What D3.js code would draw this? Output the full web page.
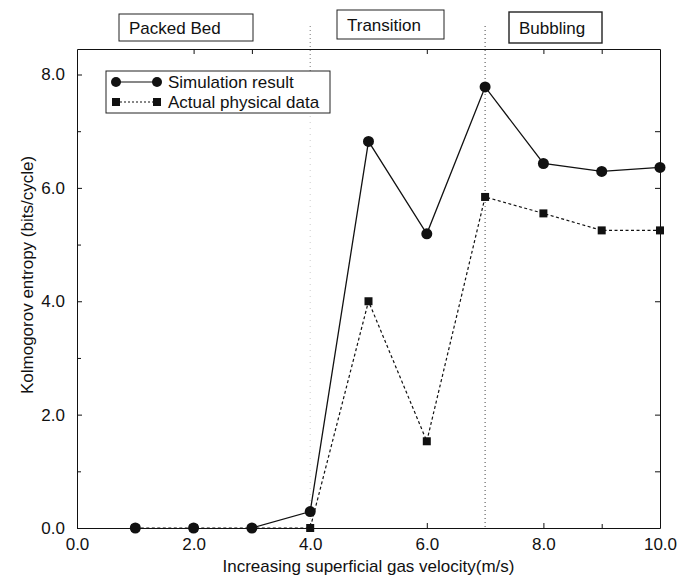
<!DOCTYPE html>
<html>
<head>
<meta charset="utf-8">
<script src="https://cdn.jsdelivr.net/npm/d3@7"></script>
<style>
  body { margin: 0; background: #fff; }
  svg { display: block; font-family: "Liberation Sans", Arial, Helvetica, sans-serif; }
</style>
</head>
<body>
<svg id="chart" width="693" height="576"></svg>
<script>
// ── Data ────────────────────────────────────────────────────
const velocity = [1, 2, 3, 4, 5, 6, 7, 8, 9, 10];
const simulation = [0, 0, 0, 0.29, 6.82, 5.19, 7.78, 6.43, 6.29, 6.36];
const actual = [0, 0, 0, 0, 4.0, 1.53, 5.84, 5.55, 5.25, 5.25];
const xTickValues = [0, 2, 4, 6, 8, 10];
const yTickValues = [0, 2, 4, 6, 8];
const regionLabels = ['Packed Bed', 'Transition', 'Bubbling'];
const regionBounds = [4, 7];   // velocities where the regime changes
const seriesNames = ['Simulation result', 'Actual physical data'];

// ── Layout ──────────────────────────────────────────────────
const W = 693, H = 576;
const margin = { top: 49, right: 33, bottom: 48, left: 77 };
const FONT = 17;

const svg = d3.select('#chart');
const x = d3.scaleLinear().domain([0, 10]).range([margin.left, W - margin.right]);
const y = d3.scaleLinear().domain([0, 8.45]).range([H - margin.bottom, margin.top]);

const simPts = velocity.map((v, i) => ({ x: v, y: simulation[i] }));
const actPts = velocity.map((v, i) => ({ x: v, y: actual[i] }));

// ── Regime separators ───────────────────────────────────────
// the first one is faint in the scan below the legend
svg.append('line')
  .attr('x1', x(regionBounds[0])).attr('x2', x(regionBounds[0]))
  .attr('y1', 26).attr('y2', 110)
  .attr('stroke', '#777').attr('stroke-width', 1)
  .attr('stroke-dasharray', '1,3');

svg.append('line')
  .attr('x1', x(regionBounds[0])).attr('x2', x(regionBounds[0]))
  .attr('y1', 110).attr('y2', y(0))
  .attr('stroke', '#ccc').attr('stroke-width', 1)
  .attr('stroke-dasharray', '1,5');

svg.append('line')
  .attr('x1', x(regionBounds[1])).attr('x2', x(regionBounds[1]))
  .attr('y1', 26).attr('y2', y(0))
  .attr('stroke', '#444').attr('stroke-width', 1)
  .attr('stroke-dasharray', '1,3');

// ── Axes (ticks point inward) ───────────────────────────────
const fmt = d3.format('.1f');

svg.append('g')
  .attr('transform', `translate(0,${y(0)})`)
  .call(d3.axisBottom(x).tickValues(xTickValues).tickFormat(fmt)
    .tickSizeInner(-5).tickSizeOuter(0).tickPadding(10));

svg.append('g')
  .attr('transform', `translate(${x(0)},0)`)
  .call(d3.axisLeft(y).tickValues(yTickValues).tickFormat(fmt)
    .tickSizeInner(-5).tickSizeOuter(0).tickPadding(12));

// minor ticks on the left, plain ticks on top and right
svg.append('g')
  .attr('transform', `translate(${x(0)},0)`)
  .call(d3.axisLeft(y).tickValues([1, 3, 5, 7]).tickFormat('')
    .tickSizeInner(-4).tickSizeOuter(0))
  .call(g => g.select('.domain').remove());

svg.append('g')
  .attr('transform', `translate(0,${y.range()[1]})`)
  .call(d3.axisTop(x).tickValues([2, 3, 6, 8, 9]).tickFormat('')
    .tickSizeInner(-5).tickSizeOuter(0));

svg.append('g')
  .attr('transform', `translate(${x(10)},0)`)
  .call(d3.axisRight(y).tickValues([1, 2, 4, 6, 7]).tickFormat('')
    .tickSizeInner(-5).tickSizeOuter(0));

svg.append('g')
  .attr('transform', `translate(0,${y(0)})`)
  .call(d3.axisBottom(x).tickValues([9]).tickFormat('')
    .tickSizeInner(-4).tickSizeOuter(0))
  .call(g => g.select('.domain').remove());

svg.selectAll('.domain').attr('stroke', '#111');
svg.selectAll('.tick line').attr('stroke', '#111');
svg.selectAll('.tick text')
  .attr('font-size', FONT)
  .attr('font-family', '"Liberation Sans", Arial, sans-serif')
  .attr('fill', '#111');

// ── Axis titles ─────────────────────────────────────────────
svg.append('text')
  .attr('x', (x(0) + x(10)) / 2).attr('y', 572)
  .attr('text-anchor', 'middle')
  .attr('font-size', FONT).attr('fill', '#111')
  .text('Increasing superficial gas velocity(m/s)');

svg.append('text')
  .attr('transform', 'translate(33,275) rotate(-90)')
  .attr('text-anchor', 'middle')
  .attr('font-size', FONT).attr('fill', '#111')
  .text('Kolmogorov entropy (bits/cycle)');

// ── Regime labels ───────────────────────────────────────────
const regionBoxes = [
  { x: 119, y: 14, w: 134, h: 27 },
  { x: 337, y: 10, w: 107, h: 29 },
  { x: 509, y: 12, w: 93, h: 31 }
];

regionLabels.forEach((name, i) => {
  const b = regionBoxes[i];
  svg.append('rect')
    .attr('x', b.x).attr('y', b.y).attr('width', b.w).attr('height', b.h)
    .attr('fill', 'none').attr('stroke', '#222')
    .attr('stroke-width', i === 2 ? 1.4 : 1);
  svg.append('text')
    .attr('x', b.x + 10).attr('y', b.y + b.h / 2)
    .attr('dy', '0.36em')
    .attr('font-size', FONT).attr('fill', '#111')
    .text(name);
});

// ── Series ──────────────────────────────────────────────────
const line = d3.line().x(d => x(d.x)).y(d => y(d.y));

svg.append('path')
  .datum(actPts)
  .attr('d', line)
  .attr('fill', 'none')
  .attr('stroke', '#111').attr('stroke-width', 1.2)
  .attr('stroke-dasharray', '3,2.5');

// simulation line is drawn from the 3rd point on (earlier ones sit on the axis)
svg.append('path')
  .datum(simPts.slice(2))
  .attr('d', line)
  .attr('fill', 'none')
  .attr('stroke', '#111').attr('stroke-width', 1.3);

const sq = 8;
svg.append('g').selectAll('rect')
  .data(actPts)
  .join('rect')
  .attr('x', d => x(d.x) - sq / 2)
  .attr('y', d => y(d.y) - sq / 2)
  .attr('width', sq).attr('height', sq)
  .attr('fill', '#111');

svg.append('g').selectAll('circle')
  .data(simPts)
  .join('circle')
  .attr('cx', d => x(d.x))
  .attr('cy', d => y(d.y))
  .attr('r', 5.5)
  .attr('fill', '#111');

// ── Legend ──────────────────────────────────────────────────
const legend = svg.append('g').attr('transform', 'translate(106,71)');

legend.append('rect')
  .attr('width', 224).attr('height', 42)
  .attr('fill', '#fff').attr('stroke', '#222').attr('stroke-width', 1);

seriesNames.forEach((name, i) => {
  const ly = 11 + i * 20;
  const row = legend.append('g').attr('transform', `translate(0,${ly})`);
  row.append('line')
    .attr('x1', 10).attr('x2', 51)
    .attr('stroke', '#111').attr('stroke-width', 1.2)
    .attr('stroke-dasharray', i === 0 ? null : '2,2');
  if (i === 0) {
    row.append('circle').attr('cx', 10).attr('r', 5).attr('fill', '#111');
    row.append('circle').attr('cx', 51).attr('r', 5).attr('fill', '#111');
  } else {
    row.append('rect').attr('x', 6).attr('y', -4).attr('width', 8).attr('height', 8).attr('fill', '#111');
    row.append('rect').attr('x', 47).attr('y', -4).attr('width', 8).attr('height', 8).attr('fill', '#111');
  }
  row.append('text')
    .attr('x', 62).attr('dy', '0.36em')
    .attr('font-size', FONT).attr('fill', '#111')
    .text(name);
});
</script>
</body>
</html>
